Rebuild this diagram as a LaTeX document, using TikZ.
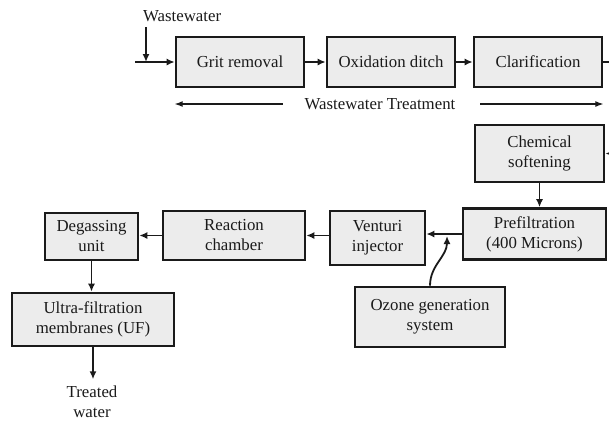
\documentclass[tikz,border=0pt]{standalone}
\usepackage{fontspec}
\setmainfont{Liberation Serif}
\usepackage{tikz}
\usetikzlibrary{arrows.meta, positioning}
\usepackage{xcolor}
\definecolor{boxgray}{HTML}{ECECEC}
\definecolor{inkblack}{HTML}{1A1A1A}
\tikzset{
	box/.style={draw=inkblack, line width=2.6pt, fill=boxgray, inner sep=0pt, align=center, text=inkblack},
	arr/.style={line width=1.8pt, draw=inkblack, -{Latex[length=8pt,width=7pt]}},
	lbl/.style={inner sep=0pt, align=center, text=inkblack}
}
\begin{document}
\begin{tikzpicture}[x=1pt, y=-1pt, font=\fontsize{16.8}{20}\selectfont]
			\useasboundingbox (0,0) rectangle (609,421);
			\clip (0,0) rectangle (609,421);
			% wastewater treatment line
			\node [box, minimum width=128, minimum height=50] (grit) at (240,62) {Grit removal};
			\node [box, minimum width=128, minimum height=50] (oxid) at (391,62) {Oxidation ditch};
			\node [box, minimum width=128, minimum height=50] (clar) at (538,62) {Clarification};
			\node [lbl, anchor=base west] (wwlabel) at (143,21) {Wastewater};
			\coordinate (inlet) at (135,62);
			\coordinate (drop) at (146,62);
			\draw [arr] (inlet) -- (grit.west);
			\draw [arr] (wwlabel.south -| drop) ++(0,6) -- (drop);
			\draw [arr] (grit.east) -- (oxid.west);
			\draw [arr] (oxid.east) -- (clar.west);
			\node [lbl] (wwt) at (380,104) {Wastewater Treatment};
			\draw [line width=1.1pt, draw=inkblack, -{Latex[length=8pt,width=6pt]}] ([xshift=-22pt]wwt.west) -- (wwt.west -| grit.west);
			\draw [line width=1.1pt, draw=inkblack, -{Latex[length=8pt,width=6pt]}] ([xshift=25pt]wwt.east) -- (wwt.east -| clar.east);
			% ozone treatment line
			\node [box, minimum width=129, minimum height=57] (chem) at (539.5,153.5) {Chemical\\softening};
			\node [box, minimum width=143, minimum height=51] (prefilt) at (534.5,234) {Prefiltration\\(400 Microns)};
			\node [box, minimum width=95, minimum height=54] (venturi) at (377.5,238) {Venturi\\injector};
			\node [box, minimum width=142, minimum height=49] (reaction) at (234,235.5) {Reaction\\chamber};
			\node [box, minimum width=93, minimum height=47] (degas) at (91.5,236.5) {Degassing\\unit};
			\node [box, minimum width=162, minimum height=53] (uf) at (93,319.5) {Ultra-filtration\\membranes (UF)};
			\node [box, minimum width=150, minimum height=60] (ozone) at (430,317) {Ozone generation\\system};
			\node [lbl, anchor=north] (treated) at (92,386) {Treated\\water};
			\draw [arr] (clar.east) -- ++(20,0) |- (chem.east);
			\draw [arr] (chem.south) -- (chem.south |- prefilt.north);
			\draw [arr] (prefilt.west) -- (prefilt.west -| venturi.east);
			\draw [arr] (venturi.west |- reaction.east) -- (reaction.east);
			\draw [arr] (reaction.west) -- (reaction.west -| degas.east);
			\coordinate (ozin) at (447,236);
			\draw [arr] (ozone.north) to [out=90, in=-90] (ozin);
			\draw [arr] (degas.south) -- (degas.south |- uf.north);
			\draw [arr] (uf.south) -- ++(0,32);
		\end{tikzpicture}
\end{document}
